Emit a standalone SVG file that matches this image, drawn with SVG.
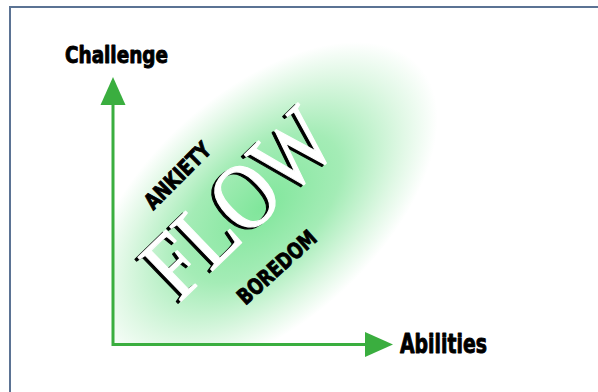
<svg xmlns="http://www.w3.org/2000/svg" width="598" height="392" viewBox="0 0 598 392">
<style>
.axis{stroke:#3aae3f;stroke-width:3;fill:none}
.head{fill:#3aae3f}
.lbl{font-family:"DejaVu Sans Condensed","DejaVu Sans",sans-serif;font-weight:bold;fill:#000;stroke:#000;stroke-width:0.9;stroke-linejoin:round}
.flow{font-family:"Liberation Serif","Times New Roman",serif;font-size:94px;stroke-width:1.2;stroke-linejoin:round}
</style>
<defs>
<radialGradient id="glow" cx="0.5" cy="0.5" r="0.5">
<stop offset="0" stop-color="#80e69b"/>
<stop offset="0.45" stop-color="#a4ecb6"/>
<stop offset="0.8" stop-color="#e0f8e5"/>
<stop offset="1" stop-color="#ffffff"/>
</radialGradient>
<clipPath id="quad"><rect x="113" y="0" width="485" height="344.5"/></clipPath>
</defs>
<rect x="0" y="0" width="598" height="392" fill="#ffffff"/>
<path d="M10 392 V7 H598" fill="none" stroke="#5b7394" stroke-width="2"/>
<g clip-path="url(#quad)">
<ellipse cx="262" cy="208" rx="212" ry="116" fill="url(#glow)" transform="rotate(-42 262 208)"/>
</g>
<g id="connectors">
<path class="axis" d="M113 103 V344.5 H367"/>
<polygon class="head" points="113,77 100.5,105 125.5,105"/>
<polygon class="head" points="393,344.5 365,332 365,357"/>
</g>
<g id="challenge"><text class="lbl" x="65" y="63" font-size="23" textLength="103" lengthAdjust="spacingAndGlyphs">Challenge</text></g>
<g id="abilities"><text class="lbl" x="400" y="353" font-size="27" textLength="87" lengthAdjust="spacingAndGlyphs">Abilities</text></g>
<g id="anxiety"><text class="lbl" transform="translate(183,181) rotate(-45)" text-anchor="middle" font-size="22" textLength="84" lengthAdjust="spacingAndGlyphs">ANKIETY</text></g>
<g id="boredom"><text class="lbl" transform="translate(282,273) rotate(-42)" text-anchor="middle" font-size="22" textLength="98" lengthAdjust="spacingAndGlyphs">BOREDOM</text></g>
<g id="flow">
<text class="flow" fill="#000" stroke="#000" transform="translate(257,227) rotate(-44)" text-anchor="middle" textLength="225" lengthAdjust="spacingAndGlyphs">FLOW</text>
<text class="flow" fill="#fff" stroke="#fff" transform="translate(260,225) rotate(-44)" text-anchor="middle" textLength="225" lengthAdjust="spacingAndGlyphs">FLOW</text>
</g>
</svg>
